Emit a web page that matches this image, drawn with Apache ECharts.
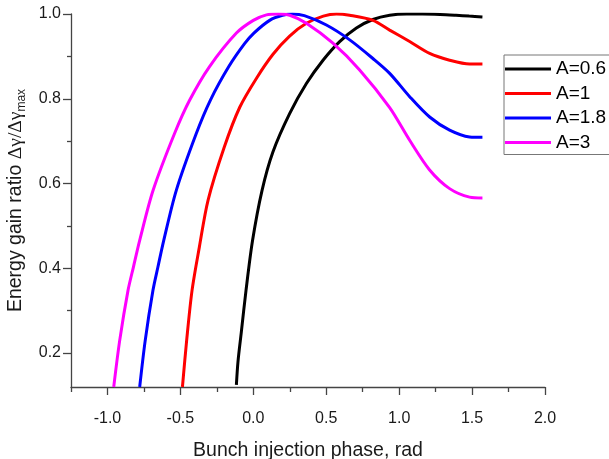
<!DOCTYPE html>
<html>
<head>
<meta charset="utf-8">
<script src="https://cdn.jsdelivr.net/npm/echarts@6/dist/echarts.min.js"></script>
<style>
  html, body { margin: 0; padding: 0; background: #fff; }
  #chart { width: 609px; height: 459px; }
</style>
</head>
<body>
<div id="chart"></div>
<script>
// Energy gain ratio versus bunch injection phase for four field amplitudes A
const seriesNames = ['A=0.6', 'A=1', 'A=1.8', 'A=3'];
const seriesColors = ['#000000', '#ff0000', '#0000ff', '#ff00ff'];

const phaseA06 = [-0.116, -0.105, -0.082, -0.05, -0.005, 0.06, 0.135, 0.249, 0.364, 0.478, 0.592, 0.707, 0.82, 0.935, 1.05, 1.16, 1.28, 1.39, 1.48, 1.571];
const gainA06  = [0.125, 0.18, 0.25, 0.348, 0.466, 0.584, 0.675, 0.765, 0.836, 0.891, 0.935, 0.967, 0.987, 0.997, 1.0, 1.0, 0.999, 0.997, 0.995, 0.993];

const phaseA1 = [-0.486, -0.457, -0.42, -0.37, -0.31, -0.2, -0.093, 0.021, 0.135, 0.249, 0.364, 0.48, 0.57, 0.66, 0.82, 0.935, 1.072, 1.209, 1.346, 1.483, 1.571];
const gainA1  = [0.12, 0.23, 0.348, 0.45, 0.561, 0.685, 0.78, 0.848, 0.905, 0.948, 0.978, 0.995, 1.0, 0.997, 0.985, 0.962, 0.935, 0.907, 0.891, 0.882, 0.882];

const phaseA18 = [-0.779, -0.741, -0.688, -0.654, -0.614, -0.528, -0.391, -0.294, -0.168, -0.06, 0.004, 0.112, 0.2, 0.27, 0.35, 0.501, 0.661, 0.82, 0.935, 1.072, 1.209, 1.346, 1.483, 1.571];
const gainA18  = [0.12, 0.23, 0.348, 0.403, 0.466, 0.584, 0.718, 0.797, 0.876, 0.93, 0.955, 0.985, 0.997, 1.0, 0.996, 0.974, 0.939, 0.895, 0.86, 0.805, 0.757, 0.726, 0.71, 0.709];

const phaseA3 = [-0.957, -0.916, -0.859, -0.822, -0.779, -0.687, -0.54, -0.436, -0.3, -0.116, 0.0, 0.09, 0.17, 0.25, 0.364, 0.546, 0.729, 0.935, 1.072, 1.209, 1.346, 1.483, 1.571];
const gainA3  = [0.12, 0.23, 0.348, 0.403, 0.466, 0.584, 0.718, 0.797, 0.876, 0.955, 0.985, 0.998, 1.0, 0.997, 0.978, 0.931, 0.868, 0.779, 0.702, 0.632, 0.588, 0.568, 0.566];

const xMajorTicks = [-1.0, -0.5, 0.0, 0.5, 1.0, 1.5, 2.0];
const xMinorTicks = [-1.25, -0.75, -0.25, 0.25, 0.75, 1.25, 1.75];
const yMajorTicks = [0.2, 0.4, 0.6, 0.8, 1.0];
const yMinorTicks = [0.3, 0.5, 0.7, 0.9];

const phases = [phaseA06, phaseA1, phaseA18, phaseA3];
const gains = [gainA06, gainA1, gainA18, gainA3];

const axisColor = '#444';
const labelFont = { fontFamily: 'Liberation Sans', fontSize: 16, color: '#1a1a1a' };

const chart = echarts.init(document.getElementById('chart'), null, { renderer: 'canvas' });

chart.setOption({
  animation: false,
  backgroundColor: '#ffffff',
  grid: { left: 71, right: 64, top: 14, bottom: 72, outerBoundsMode: 'none', containLabel: false },
  legend: {
    orient: 'vertical',
    left: 504,
    top: 55,
    data: seriesNames,
    icon: 'rect',
    itemWidth: 46,
    itemHeight: 3,
    itemGap: 4.5,
    padding: [4, 30, 2, 1],
    borderColor: '#777',
    borderWidth: 1,
    textStyle: { fontFamily: 'Liberation Sans', fontSize: 19, color: '#000', lineHeight: 20 }
  },
  xAxis: [
    {
      type: 'value', min: -1.25, max: 2.0,
      name: 'Bunch injection phase, rad',
      nameLocation: 'middle', nameGap: 54,
      nameTextStyle: { fontFamily: 'Liberation Sans', fontSize: 19.5, color: '#1a1a1a' },
      axisLine: { onZero: false, lineStyle: { color: axisColor, width: 1.3 } },
      axisTick: { customValues: xMajorTicks, length: 8, lineStyle: { color: axisColor, width: 1.3 } },
      axisLabel: Object.assign({ customValues: xMajorTicks, margin: 24, formatter: v => v.toFixed(1) }, labelFont),
      splitLine: { show: false }
    },
    {
      type: 'value', min: -1.25, max: 2.0, position: 'bottom',
      axisLine: { show: false, onZero: false },
      axisTick: { customValues: xMinorTicks, length: 5, lineStyle: { color: axisColor, width: 1.3 } },
      axisLabel: { show: false },
      splitLine: { show: false }
    }
  ],
  yAxis: [
    {
      type: 'value', min: 0.12, max: 1.0,
      name: '{t|Energy gain ratio }{g|Δγ/Δγ}{s|max}',
      nameLocation: 'middle', nameGap: 36, nameRotate: 90,
      nameTextStyle: {
        color: '#1a1a1a',
        rich: {
          t: { fontFamily: 'Liberation Sans', fontSize: 19.5, lineHeight: 24, color: '#1a1a1a' },
          g: { fontFamily: 'Liberation Serif', fontSize: 19.5, lineHeight: 24, color: '#1a1a1a' },
          s: { fontFamily: 'Liberation Sans', fontSize: 12, lineHeight: 12, verticalAlign: 'bottom', color: '#1a1a1a' }
        }
      },
      axisLine: { onZero: false, lineStyle: { color: axisColor, width: 1.3 } },
      axisTick: { customValues: yMajorTicks, length: 8, lineStyle: { color: axisColor, width: 1.3 } },
      axisLabel: Object.assign({ customValues: yMajorTicks, margin: 10, formatter: v => v.toFixed(1) }, labelFont),
      splitLine: { show: false }
    },
    {
      type: 'value', min: 0.12, max: 1.0, position: 'left',
      axisLine: { show: false, onZero: false },
      axisTick: { customValues: yMinorTicks, length: 4, lineStyle: { color: axisColor, width: 1.3 } },
      axisLabel: { show: false },
      splitLine: { show: false }
    }
  ],
  series: seriesNames.map((name, i) => ({
    name: name,
    type: 'line',
    xAxisIndex: 0,
    yAxisIndex: 0,
    data: phases[i].map((p, k) => [p, gains[i][k]]),
    showSymbol: false,
    smooth: 0.3,
    clip: true,
    color: seriesColors[i],
    lineStyle: { color: seriesColors[i], width: 3 }
  }))
});
</script>
</body>
</html>
